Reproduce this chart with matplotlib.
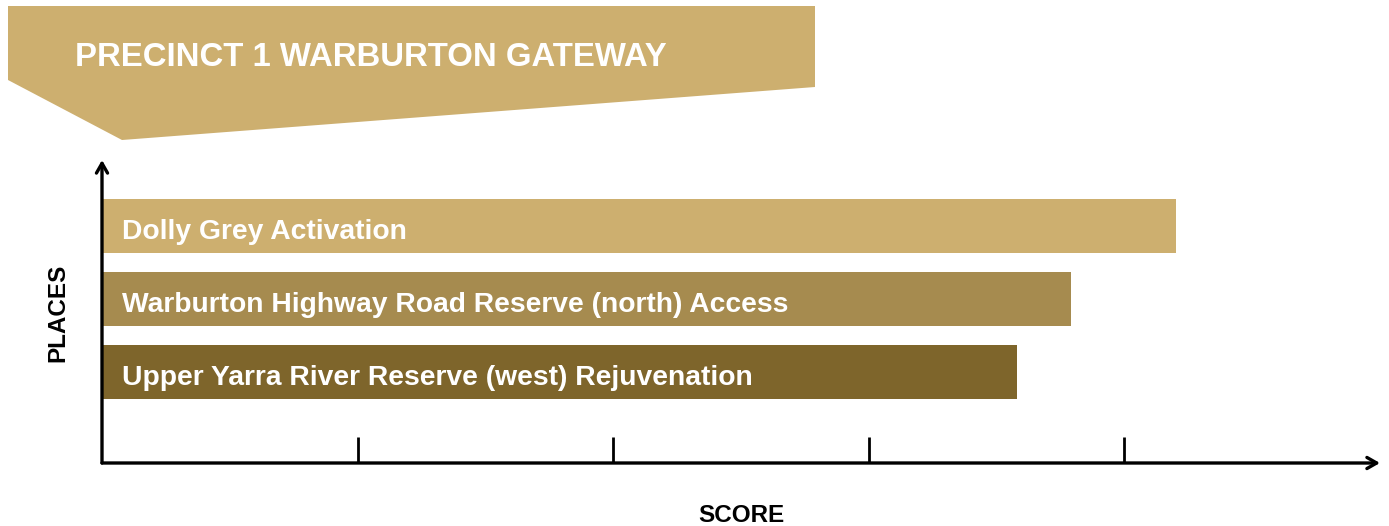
import matplotlib
matplotlib.use('Agg')
import matplotlib.pyplot as plt
from matplotlib.patches import Polygon

OUTPUT_FILE = "out.png"

TITLE = "PRECINCT 1 WARBURTON GATEWAY"
places = [
    "Dolly Grey Activation",
    "Warburton Highway Road Reserve (north) Access",
    "Upper Yarra River Reserve (west) Rejuvenation",
]
scores = [4.2, 3.79, 3.58]
bar_colors = ["#CDAF6F", "#A68B4F", "#7E652B"]
score_ticks = [1, 2, 3, 4]

W, H = 1389, 526
FONT = ["Liberation Sans", "DejaVu Sans"]


def px(x, y):
    # pixel coords (top-left origin) -> figure fraction
    return x / W, 1 - y / H


def main():
    plt.rcParams["font.family"] = FONT
    fig = plt.figure(figsize=(W / 100, H / 100), dpi=100)

    # --- banner ---
    banner = [px(8, 6), px(815, 6), px(815, 87), px(122, 140), px(8, 80)]
    fig.patches.append(Polygon(banner, closed=True, transform=fig.transFigure,
                               facecolor="#CDAF6F", edgecolor="none"))
    fig.text(*px(75, 57), TITLE, color="white", fontsize=23.7, fontweight="bold",
             ha="left", va="center")

    # --- axes ---
    left, bottom = px(102, 463)
    right, top = px(1380, 160)
    ax = fig.add_axes([left, bottom, right - left, top - bottom])
    ypos = list(range(len(places)))
    ax.barh(ypos, scores, height=0.74, color=bar_colors, left=0)
    for y, name in zip(ypos, places):
        ax.text(0.08, y + 0.08, name, color="white", fontsize=20.3, fontweight="bold",
                ha="left", va="center")

    ax.set_xlim(0, 5)
    ax.set_ylim(3.24, -0.91)
    for s in ax.spines.values():
        s.set_visible(False)
    ax.set_xticks(score_ticks)
    ax.set_xticklabels([])
    ax.set_yticks([])
    ax.tick_params(axis="x", direction="in", length=19, width=2, color="black")

    arrow = dict(arrowstyle="->,head_length=0.7,head_width=0.4", lw=2.4, color="black",
                 shrinkA=0, shrinkB=0)
    ax.annotate("", xy=(1, 0), xytext=(0, 0), xycoords="axes fraction",
                textcoords="axes fraction", arrowprops=arrow)
    ax.annotate("", xy=(0, 1), xytext=(0, 0), xycoords="axes fraction",
                textcoords="axes fraction", arrowprops=arrow)

    fig.text(*px(741, 515), "SCORE", fontsize=17.5, fontweight="bold",
             ha="center", va="center")
    fig.text(*px(58, 313), "PLACES", fontsize=17.5, fontweight="bold",
             ha="center", va="center", rotation=90)

    fig.savefig(OUTPUT_FILE, dpi=100)
    plt.close(fig)


if __name__ == "__main__":
    main()
